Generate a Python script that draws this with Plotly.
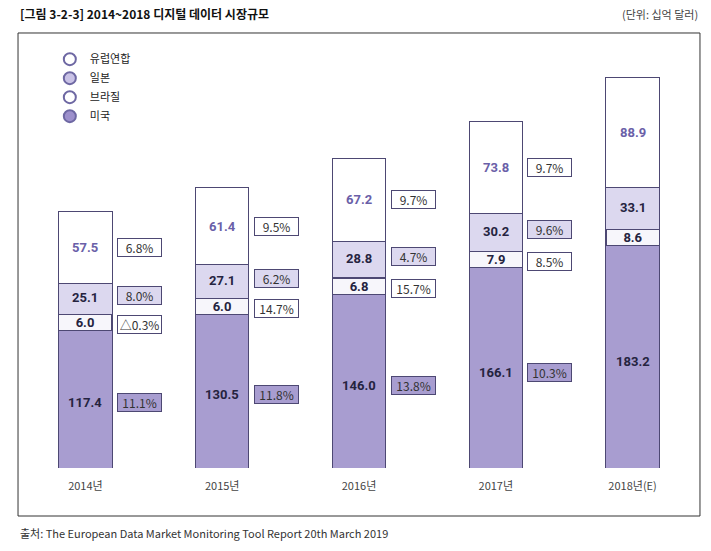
import plotly.graph_objects as go

years = ["2014년", "2015년", "2016년", "2017년", "2018년(E)"]
us = [117.4, 130.5, 146.0, 166.1, 183.2]
brazil = [6.0, 6.0, 6.8, 7.9, 8.6]
japan = [25.1, 27.1, 28.8, 30.2, 33.1]
eu = [57.5, 61.4, 67.2, 73.8, 88.9]

us_growth = ["11.1%", "11.8%", "13.8%", "10.3%", None]
brazil_growth = ["△0.3%", "14.7%", "15.7%", "8.5%", None]
japan_growth = ["8.0%", "6.2%", "4.7%", "9.6%", None]
eu_growth = ["6.8%", "9.5%", "9.7%", "9.7%", None]

C_US = "#a89dd0"
C_JP = "#dcd8ef"
C_BR = "#f7f6fb"
C_EU = "#ffffff"
BORDER = "#4d4873"
LABEL_DARK = "#25233f"
LABEL_EU = "#6a60a8"
NUM_FONT = "Roboto, Liberation Sans Narrow, sans-serif"
KR_FONT = "Noto Sans CJK KR, Noto Sans, sans-serif"

x = list(range(len(years)))
BAR_W = 0.39

fig = go.Figure()
for name, vals, col in [("미국", us, C_US), ("브라질", brazil, C_BR),
                        ("일본", japan, C_JP), ("유럽연합", eu, C_EU)]:
    fig.add_trace(go.Bar(x=x, y=vals, name=name, width=BAR_W, showlegend=False,
                         marker=dict(color=col, line=dict(color=BORDER, width=1)),
                         hoverinfo="skip"))

# legend entries (circle symbols)
for name, col in [("유럽연합", "#ffffff"), ("일본", "#c9c2e6"),
                  ("브라질", "#ffffff"), ("미국", "#9d90cc")]:
    fig.add_trace(go.Scatter(x=[None], y=[None], mode="markers", name=name,
                             marker=dict(symbol="circle", size=9, color=col,
                                         line=dict(color="#6e68a3", width=1))))

ann = []
GX = 54  # growth box x offset (px)
for i in x:
    top_br = us[i] + brazil[i]
    mid_jp = top_br + japan[i] / 2
    mid_eu = top_br + japan[i] + eu[i] / 2
    mid_us = us[i] / 2

    # value labels
    ann.append(dict(x=i, y=mid_eu, text=f"{eu[i]:.1f}", showarrow=False,
                    font=dict(family=NUM_FONT, size=13, color=LABEL_EU, weight="bold")))
    ann.append(dict(x=i, y=mid_jp, text=f"{japan[i]:.1f}", showarrow=False, yshift=1,
                    font=dict(family=NUM_FONT, size=13, color=LABEL_DARK, weight="bold")))
    ann.append(dict(x=i, y=top_br, yanchor="top", text=f"{brazil[i]:.1f}", showarrow=False,
                    width=52, height=15, borderpad=0, borderwidth=1, bordercolor=BORDER,
                    bgcolor=C_BR,
                    font=dict(family=NUM_FONT, size=13, color=LABEL_DARK, weight="bold")))
    ann.append(dict(x=i, y=mid_us, text=f"{us[i]:.1f}", showarrow=False, yshift=-8,
                    font=dict(family=NUM_FONT, size=13, color=LABEL_DARK, weight="bold")))

    # growth boxes
    box = dict(showarrow=False, xshift=GX, width=41, height=15, borderpad=1,
               borderwidth=1, bordercolor=BORDER,
               font=dict(family=KR_FONT, size=12, color="#333333"))
    if eu_growth[i]:
        ann.append(dict(box, x=i, y=mid_eu, text=eu_growth[i], bgcolor="#ffffff"))
    if japan_growth[i]:
        ann.append(dict(box, x=i, y=mid_jp, yshift=3, text=japan_growth[i], bgcolor=C_JP))
    if brazil_growth[i]:
        ann.append(dict(box, x=i, y=top_br, yanchor="top", yshift=-1,
                        text=brazil_growth[i], bgcolor="#ffffff"))
    if us_growth[i]:
        ann.append(dict(box, x=i, y=mid_us, yshift=-8, text=us_growth[i], bgcolor=C_US))

# title, unit, source
ann.append(dict(xref="paper", yref="paper", x=0.0015, y=1.105, xanchor="left", yanchor="middle",
                text="[그림 3-2-3] 2014~2018 디지털 데이터 시장규모", showarrow=False,
                font=dict(family=KR_FONT, size=12, color="#111111", weight="bold")))
ann.append(dict(xref="paper", yref="paper", x=0.9985, y=1.105, xanchor="right", yanchor="middle",
                text="(단위: 십억 달러)", showarrow=False,
                font=dict(family=KR_FONT, size=11, color="#444444")))
ann.append(dict(xref="paper", yref="paper", x=0.0015, y=-0.158, xanchor="left", yanchor="middle",
                text="출처: The European Data Market Monitoring Tool Report 20th March 2019",
                showarrow=False, font=dict(family=KR_FONT, size=11, color="#333333")))

fig.update_layout(
    width=711, height=551,
    margin=dict(l=17, r=10, t=57, b=83),
    barmode="stack",
    plot_bgcolor="#ffffff", paper_bgcolor="#ffffff",
    annotations=ann,
    showlegend=True,
    legend=dict(x=0.048, y=1.03, xanchor="left", yanchor="top", traceorder="normal",
                bgcolor="rgba(0,0,0,0)", tracegroupgap=0, itemsizing="constant",
                font=dict(family=KR_FONT, size=11, color="#222222")),
    shapes=[dict(type="rect", xref="paper", yref="paper", x0=0.0015, x1=0.9985,
                 y0=-0.1168, y1=1.0584, line=dict(color="#333333", width=1),
                 fillcolor="rgba(0,0,0,0)", layer="below")],
    xaxis=dict(range=[-0.5, 4.5], tickmode="array", tickvals=x, ticktext=years,
               showgrid=False, zeroline=False, showline=False, ticks="",
               ticklabelstandoff=10,
               tickfont=dict(family=KR_FONT, size=11, color="#444444")),
    yaxis=dict(range=[0, 330], visible=False, showgrid=False, zeroline=False),
)

fig.write_html("out.html", config={"displayModeBar": False},
               post_script="document.body.style.margin='0';document.body.style.padding='0';")
